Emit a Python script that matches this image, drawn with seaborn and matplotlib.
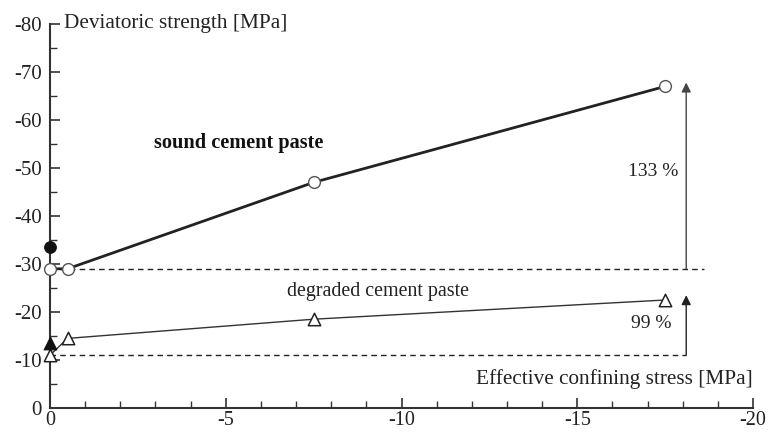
import matplotlib
matplotlib.use("Agg")
import matplotlib.pyplot as plt
from matplotlib.ticker import MultipleLocator
import seaborn as sns
import pandas as pd

# Confining stress [MPa] and deviatoric strength [MPa]
confining = [0.0, -0.5, -7.5, -17.5]
sound_strength = [-29.0, -29.0, -47.0, -67.0]
degraded_strength = [-11.0, -14.5, -18.5, -22.5]

# Single filled reference points at zero confinement
sound_ref_x, sound_ref_y = [0.0], [-33.5]
degraded_ref_x, degraded_ref_y = [0.0], [-13.5]

# Baselines and strength gains
sound_base = -29.0
degraded_base = -11.0
sound_gain_label = "133 %"
degraded_gain_label = "99 %"

x_ticks = [0, -5, -10, -15, -20]
y_ticks = [0, -10, -20, -30, -40, -50, -60, -70, -80]

sns.set_theme(style="ticks")
plt.rcParams["font.family"] = ["Liberation Serif", "DejaVu Serif"]

fig = plt.figure(figsize=(7.7, 4.34), dpi=100)
ax = fig.add_axes([50 / 770, 26 / 434, 703 / 770, 384 / 434])

sound_df = pd.DataFrame({"x": confining, "y": sound_strength})
deg_df = pd.DataFrame({"x": confining, "y": degraded_strength})

sns.lineplot(data=sound_df, x="x", y="y", ax=ax, color="#222222", lw=2.0,
             sort=False, estimator=None)
sns.lineplot(data=deg_df, x="x", y="y", ax=ax, color="#333333", lw=1.0,
             sort=False, estimator=None)

sns.scatterplot(data=sound_df, x="x", y="y", ax=ax, marker="o", s=72,
                facecolor="white", edgecolor="#555555", linewidth=1.0, zorder=5)
sns.scatterplot(data=deg_df, x="x", y="y", ax=ax, marker="^", s=80,
                facecolor="white", edgecolor="#222222", linewidth=1.1, zorder=5)
sns.scatterplot(x=sound_ref_x, y=sound_ref_y, ax=ax, marker="o", s=72,
                color="#111111", edgecolor="#111111", zorder=6)
sns.scatterplot(x=degraded_ref_x, y=degraded_ref_y, ax=ax, marker="^", s=85,
                color="#111111", edgecolor="#111111", zorder=6)
for coll in ax.collections:
    coll.set_clip_on(False)
for line in ax.lines:
    line.set_clip_on(False)

# Dashed baselines
ax.plot([0, -18.6], [sound_base, sound_base], ls=(0, (4, 3)), color="#222222", lw=1.0)
ax.plot([0, -18.1], [degraded_base, degraded_base], ls=(0, (4, 3)), color="#222222", lw=1.0)

# Strength gain arrows
arrow_x = -18.1
ax.annotate("", xy=(arrow_x, sound_strength[-1] - 0.8), xytext=(arrow_x, sound_base),
            arrowprops=dict(arrowstyle="-|>", color="#444444", lw=1.0,
                            mutation_scale=14, shrinkA=0, shrinkB=0))
ax.annotate("", xy=(arrow_x, degraded_strength[-1] - 1.0), xytext=(arrow_x, degraded_base),
            arrowprops=dict(arrowstyle="-|>", color="#222222", lw=1.0,
                            mutation_scale=14, shrinkA=0, shrinkB=0))

ax.text(-17.15, -49.3, sound_gain_label, ha="center", va="center", fontsize=14, color="#222222")
ax.text(-17.1, -17.5, degraded_gain_label, ha="center", va="center", fontsize=14, color="#222222")

ax.text(-5.38, -55.2, "sound cement paste", ha="center", va="center",
        fontsize=14.6, fontweight="bold", color="#111111")
ax.text(-9.33, -24.3, "degraded cement paste", ha="center", va="center",
        fontsize=14.4, color="#222222")
ax.text(-20.0, -6.0, "Effective confining stress [MPa]", ha="right", va="center",
        fontsize=15.3, color="#222222")
ax.text(-0.4, -80.0, "Deviatoric strength [MPa]", ha="left", va="center",
        fontsize=15.3, color="#222222")

ax.set_xlim(0, -20)
ax.set_ylim(0, -80)
ax.set_xticks(x_ticks)
ax.set_yticks(y_ticks)
ax.set_xticklabels([str(v) for v in x_ticks])
ax.set_yticklabels([str(v) for v in y_ticks])
ax.xaxis.set_minor_locator(MultipleLocator(1))
ax.yaxis.set_minor_locator(MultipleLocator(5))
ax.tick_params(which="major", direction="in", length=7, width=1.2, color="#333333",
               labelsize=15, labelcolor="#222222")
ax.tick_params(which="minor", direction="in", length=5, width=1.0, color="#333333")
ax.tick_params(axis="x", which="major", pad=2, labelsize=14.5)
ax.tick_params(axis="y", which="major", pad=6)
ax.set_xlabel("")
ax.set_ylabel("")
sns.despine(ax=ax)
for side in ("left", "bottom"):
    ax.spines[side].set_color("#333333")
    ax.spines[side].set_linewidth(1.5)
ax.set_facecolor("white")
fig.patch.set_facecolor("white")

fig.savefig("out.png", dpi=100)
